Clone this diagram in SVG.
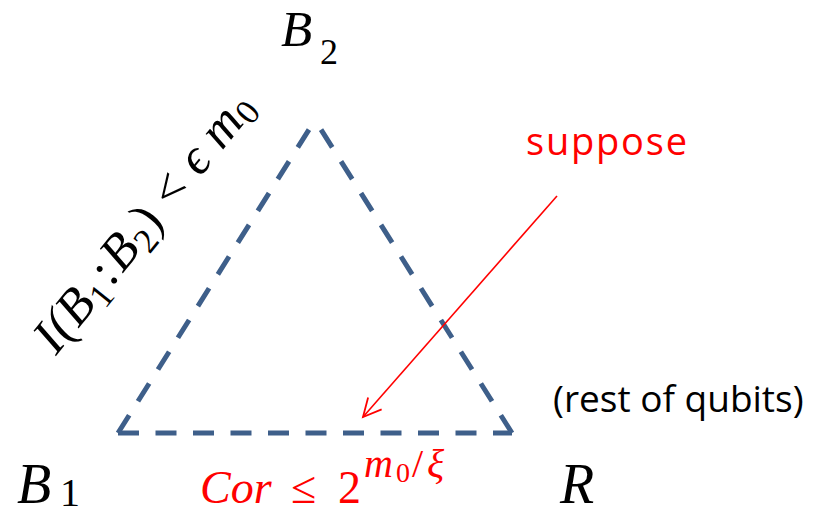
<svg xmlns="http://www.w3.org/2000/svg" width="826" height="516" viewBox="0 0 826 516">
<style>
.math{font-family:"Liberation Serif","DejaVu Serif",serif;font-style:italic;fill:#000}
.up{font-style:normal}
.red{fill:#ff0000}
.sans{font-family:"Open Sans","Liberation Sans",sans-serif}
.edge{fill:none;stroke:#3e5f8a;stroke-width:5;stroke-dasharray:21 16.5}
</style>
<defs>
<marker id="ah" markerWidth="24" markerHeight="24" refX="20" refY="12" orient="auto" markerUnits="userSpaceOnUse">
<path d="M2,3 L20,12 L2,21" fill="none" stroke="#ff0000" stroke-width="1.8"/>
</marker>
</defs>
<g id="connectors">
<path class="edge" d="M512,433 L315,120"/>
<path class="edge" d="M118,433 L315,120"/>
<path class="edge" d="M118,433 L512,433"/>
<line x1="557" y1="196" x2="363" y2="417" stroke="#ff0000" stroke-width="1.6" marker-end="url(#ah)"/>
</g>
<g id="B2"><text class="math" font-size="51"><tspan x="281" y="46">B</tspan><tspan class="up" font-size="36" x="320" y="64">2</tspan></text></g>
<g id="B1"><text class="math" font-size="56"><tspan x="17" y="503">B</tspan><tspan class="up" font-size="40" x="60" y="506">1</tspan></text></g>
<g id="R"><text class="math" x="560" y="503" font-size="56">R</text></g>
<g id="suppose"><text class="sans red" x="526" y="155" font-size="38" letter-spacing="1.8">suppose</text></g>
<g id="rest"><text class="sans" x="553" y="412" font-size="37">(rest of qubits)</text></g>
<g id="cor"><text class="math red" font-size="46"><tspan x="200" y="503">Cor</tspan><tspan class="up" x="291" y="503">≤</tspan><tspan class="up" x="338" y="503">2</tspan><tspan font-size="40" x="364" y="477">m</tspan><tspan class="up" font-size="28" x="396" y="482">0</tspan><tspan class="up" font-size="40" x="412" y="477">/</tspan><tspan font-size="40" x="427" y="477">ξ</tspan></text></g>
<g id="mutual"><text class="math" transform="translate(56,356) rotate(-51)" font-size="51" letter-spacing="0.6">I(B<tspan class="up" font-size="35" dy="9">1</tspan><tspan class="up" dy="-9" dx="3">:</tspan><tspan dx="3">B</tspan><tspan class="up" font-size="35" dy="9">2</tspan><tspan class="up" dy="-9">) &lt; </tspan>ϵ m<tspan class="up" font-size="35" dy="7">0</tspan></text></g>
</svg>
